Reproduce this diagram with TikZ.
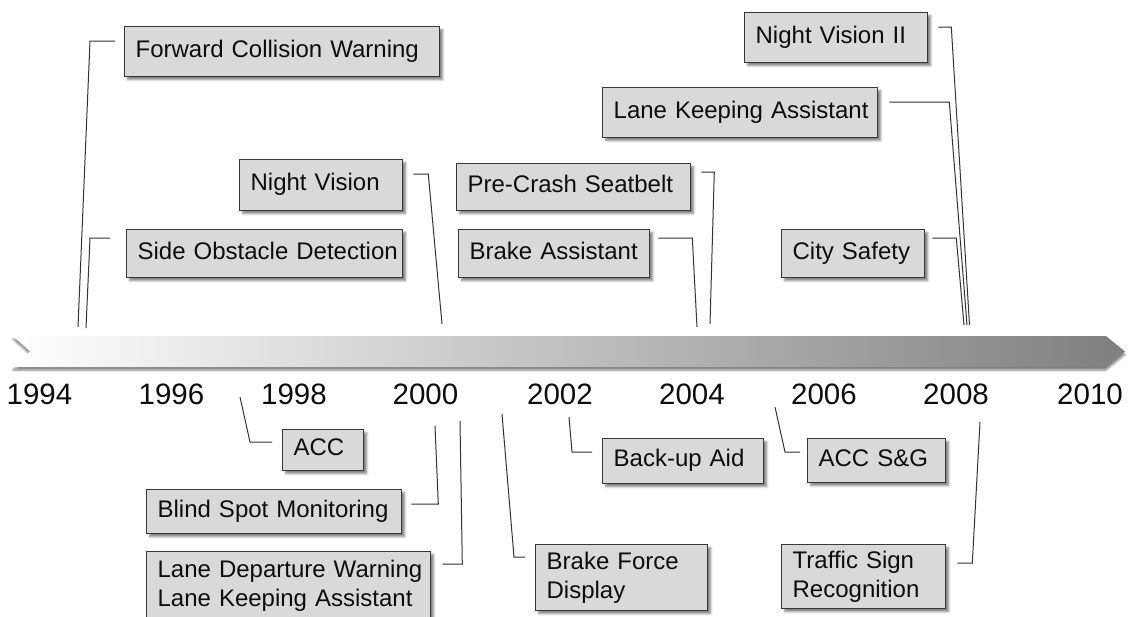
\documentclass[tikz,border=0pt]{standalone}
\usepackage{fontspec}
\setmainfont{Liberation Sans}
\usetikzlibrary{calc,shadows.blur}
\definecolor{boxfill}{HTML}{D9D9D9}
\definecolor{boxline}{HTML}{383838}
\definecolor{conline}{HTML}{333333}
\definecolor{txt}{HTML}{0D0D0D}
\definecolor{arrowend}{HTML}{7F7F7F}
\begin{document}
\begin{tikzpicture}[x=1pt,y=-1pt,
  box/.style={draw=boxline, fill=boxfill, line width=1.3pt, anchor=north west,
    inner xsep=11pt, inner ysep=0pt, align=left, text=txt,
    font=\fontsize{24}{29}\selectfont,
    blur shadow={shadow xshift=3pt, shadow yshift=-3pt, shadow blur steps=6, shadow opacity=50}},
  one/.style={text height=16pt, text depth=5pt},
  con/.style={draw=conline, line width=1pt},
  year/.style={font=\fontsize{29.5}{31}\selectfont, text=txt}]
\useasboundingbox (0,0) rectangle (1130,616);

% timeline arrow
\path[left color=white, right color=arrowend,
  blur shadow={shadow xshift=0pt, shadow yshift=-3pt, shadow blur steps=6, shadow opacity=50}]
  (13,336) -- (1106,336) -- (1125,351.5) -- (1106,367) -- (13,367) -- (30,351.5) -- cycle;

% years
\node[year] (y1994) at (39.5,394) {1994};
\node[year] (y1996) at (171.5,394) {1996};
\node[year] (y1998) at (294,394) {1998};
\node[year] (y2000) at (425.5,394) {2000};
\node[year] (y2002) at (560,394) {2002};
\node[year] (y2004) at (692,394) {2004};
\node[year] (y2006) at (824,394) {2006};
\node[year] (y2008) at (956,394) {2008};
\node[year] (y2010) at (1090,394) {2010};

% connector end points on the timeline
\coordinate (t-fcw) at (78,327);
\coordinate (t-sod) at (86,328);
\coordinate (t-nv) at (442,324);
\coordinate (t-pcs) at (710,324);
\coordinate (t-ba) at (697,327);
\coordinate (t-nv2) at (969.5,325);
\coordinate (t-lka) at (967,325);
\coordinate (t-cs) at (964,325);
\coordinate (t-acc) at (240,397);
\coordinate (t-bsm) at (435,426);
\coordinate (t-ldw) at (460,421);
\coordinate (t-bfd) at (502,414);
\coordinate (t-bua) at (569,417);
\coordinate (t-accsg) at (775,407);
\coordinate (t-tsr) at (980,422);

% boxes above
\node[box,one,minimum width=315,minimum height=50,text width=293pt] (fcw) at (124,26) {\mbox{Forward Collision Warning}};
\node[box,one,minimum width=276,minimum height=48,text width=254pt] (sod) at (126,229) {\mbox{Side Obstacle Detection}};
\node[box,one,minimum width=163,minimum height=51,text width=141pt] (nv) at (239,159) {\mbox{Night Vision}};
\node[box,one,minimum width=234,minimum height=47,text width=212pt] (pcs) at (456,163) {\mbox{Pre-Crash Seatbelt}};
\node[box,one,minimum width=191,minimum height=48,text width=169pt] (ba) at (458,229) {\mbox{Brake Assistant}};
\node[box,one,minimum width=183,minimum height=50,text width=161pt] (nv2) at (744,12) {\mbox{Night Vision II}};
\node[box,one,minimum width=275,minimum height=50,text width=253pt] (lka) at (602,87) {\mbox{Lane Keeping Assistant}};
\node[box,one,minimum width=143,minimum height=48,text width=121pt] (cs) at (781,229) {\mbox{City Safety}};

% boxes below
\node[box,one,minimum width=81,minimum height=41,text width=59pt] (acc) at (282,429) {\mbox{ACC}};
\node[box,one,minimum width=255,minimum height=44,text width=233pt] (bsm) at (146,489) {\mbox{Blind Spot Monitoring}};
\node[box,minimum width=284,minimum height=68,text width=262pt] (ldw) at (146,551) {\mbox{Lane Departure Warning}\\\mbox{Lane Keeping Assistant}};
\node[box,minimum width=172,minimum height=66,text width=150pt] (bfd) at (535,544) {\mbox{Brake Force}\\\mbox{Display}};
\node[box,one,minimum width=161,minimum height=45,text width=139pt] (bua) at (602,438) {\mbox{Back-up Aid}};
\node[box,one,minimum width=138,minimum height=44,text width=116pt] (accsg) at (807,438) {\mbox{ACC S\&G}};
\node[box,minimum width=164,minimum height=64,text width=142pt] (tsr) at (781,544) {\mbox{Traffic Sign}\\\mbox{Recognition}};

% connectors
\draw[con] ($(fcw.north west)+(-9,15)$) -- ++(-25,0) -- (t-fcw);
\draw[con] ($(sod.north west)+(-16,9)$) -- ++(-20,0) -- (t-sod);
\draw[con] ($(nv.north east)+(10,15)$) -- ++(15,0) -- (t-nv);
\draw[con] ($(pcs.north east)+(10,9)$) -- ++(13,0) -- (t-pcs);
\draw[con] ($(ba.north east)+(8,9)$) -- ++(34,0) -- (t-ba);
\draw[con] ($(nv2.north east)+(10,15)$) -- ++(13,0) -- (t-nv2);
\draw[con] ($(lka.north east)+(11,15)$) -- ++(60,0) -- (t-lka);
\draw[con] ($(cs.north east)+(7,9)$) -- ++(24,0) -- (t-cs);
\draw[con] ($(acc.north west)+(-10,13)$) -- ++(-22,0) -- (t-acc);
\draw[con] ($(bsm.north east)+(9,15)$) -- ++(27,0) -- (t-bsm);
\draw[con] ($(ldw.north east)+(11,13)$) -- ++(20,0) -- (t-ldw);
\draw[con] ($(bfd.north west)+(-10,13)$) -- ++(-11,0) -- (t-bfd);
\draw[con] ($(bua.north west)+(-10,14)$) -- ++(-20,0) -- (t-bua);
\draw[con] ($(accsg.north west)+(-7,14)$) -- ++(-15,0) -- (t-accsg);
\draw[con] ($(tsr.north east)+(11,19)$) -- ++(15,0) -- (t-tsr);
\end{tikzpicture}
\end{document}
